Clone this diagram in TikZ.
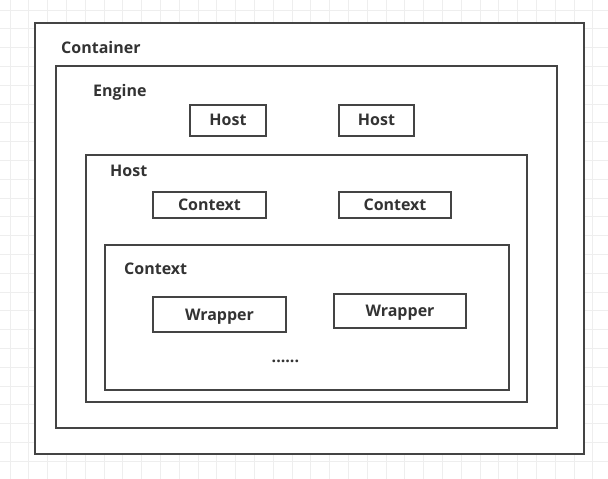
\documentclass[tikz,border=0pt]{standalone}
\usepackage{fontspec}
\setmainfont{Open Sans}
\definecolor{gridc}{HTML}{EEEEEE}
\definecolor{linec}{HTML}{444444}
\definecolor{textc}{HTML}{333333}
\begin{document}
\begin{tikzpicture}[x=1pt,y=-1pt,
  frame/.style={draw=linec,line width=2pt},
  lbl/.style={anchor=west,inner sep=0pt,text height=11.4pt,text depth=0pt,text=textc,font=\bfseries\fontsize{16}{18}\selectfont},
  item/.style={draw=linec,line width=2pt,fill=white,inner sep=0pt,text height=11.4pt,text depth=0pt,text=textc,font=\bfseries\fontsize{16}{18}\selectfont}]
\useasboundingbox (0,0) rectangle (608,479);
\fill[white] (0,0) rectangle (608,479);
\foreach \i in {0,...,32} {
  \draw[gridc,line width=0.8pt] ({10+18.8*\i},0) -- ({10+18.8*\i},479);
}
\foreach \i in {0,...,25} {
  \draw[gridc,line width=0.8pt] (0,{10+18.8*\i}) -- (608,{10+18.8*\i});
}
% frames
\draw[frame,fill=white] (35,23) rectangle (584,454);
\draw[frame] (56,65.5) rectangle (557,428);
\draw[frame] (86,155) rectangle (527,402);
\draw[frame] (105,245) rectangle (508.5,390);
% labels
\node[lbl] (lcontainer) at (61,48) {Container};
\node[lbl] (lengine) at (93,91) {Engine};
\node[lbl] (lhost) at (110,171) {Host};
\node[lbl] (lcontext) at (124,268.5) {Context};
% items
\node[item,minimum width=76pt,minimum height=31pt] (host1) at (228,120) {Host};
\node[item,minimum width=75pt,minimum height=31pt] (host2) at (376.5,120) {Host};
\node[item,minimum width=113pt,minimum height=26pt] (ctx1) at (209.5,205) {Context};
\node[item,minimum width=112pt,minimum height=26pt] (ctx2) at (395,205) {Context};
\node[item,minimum width=133pt,minimum height=35pt] (wr1) at (219.5,314.5) {Wrapper};
\node[item,minimum width=132pt,minimum height=34pt] (wr2) at (400,311) {Wrapper};
\node[lbl,anchor=base west] (dots) at (271.5,362.5) {......};
\end{tikzpicture}
\end{document}
